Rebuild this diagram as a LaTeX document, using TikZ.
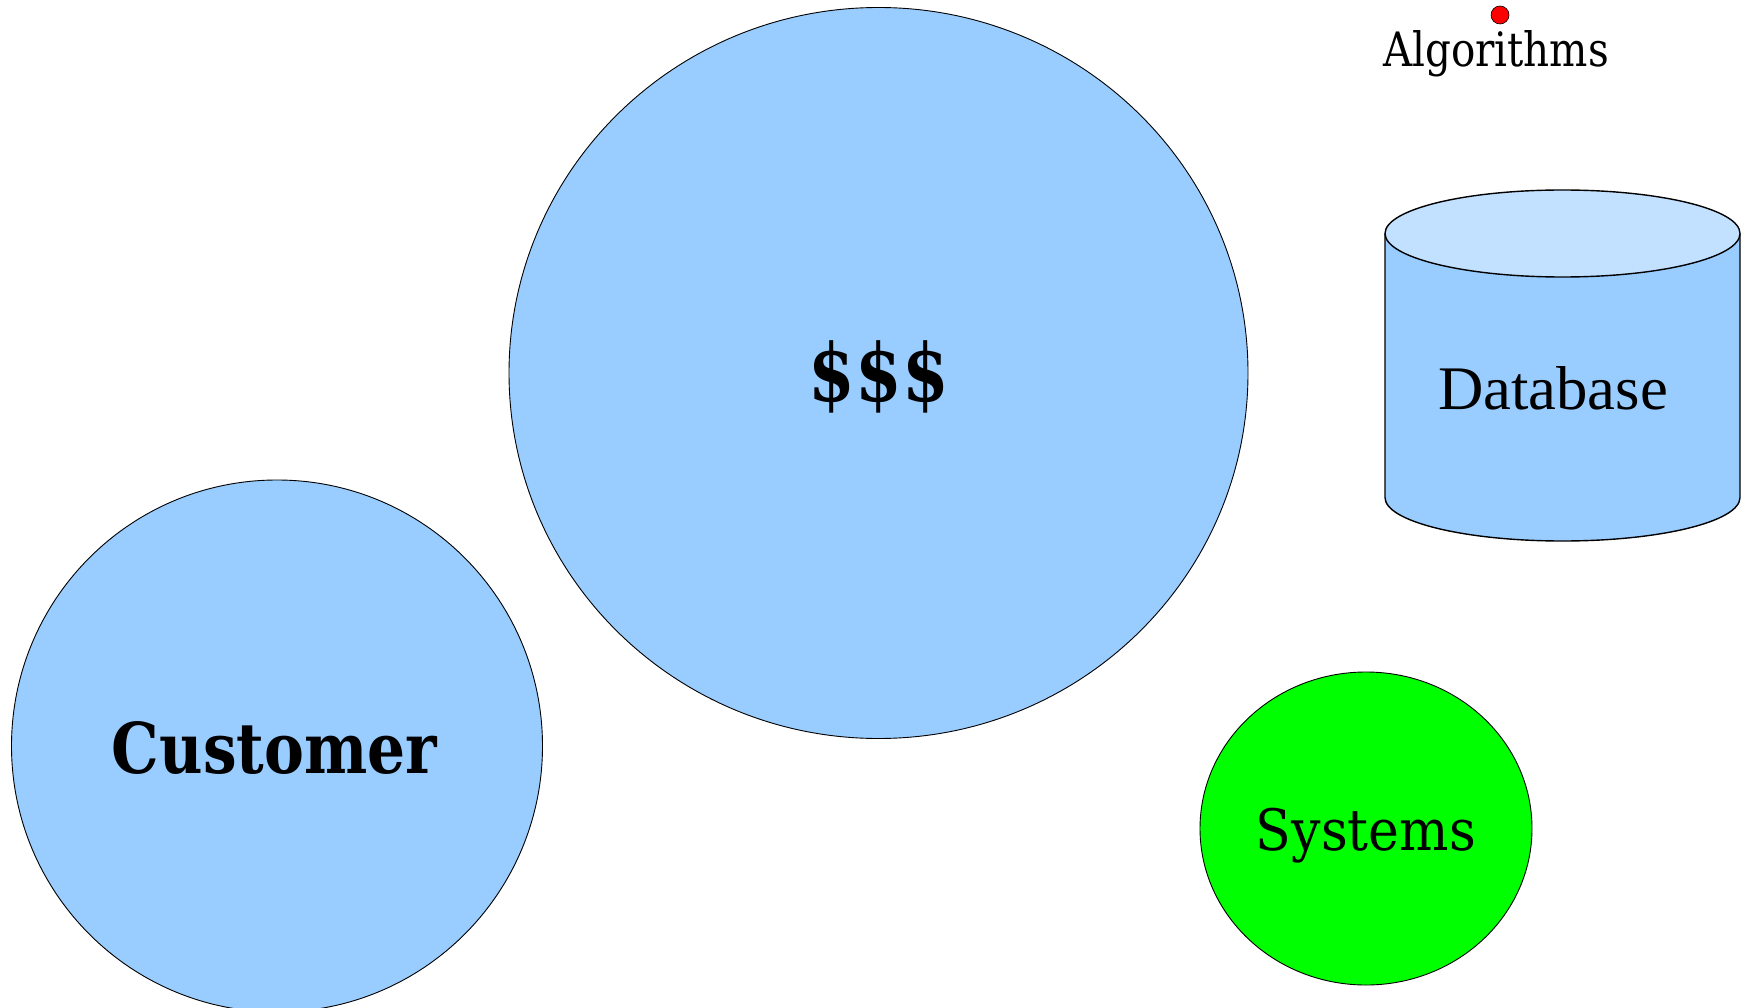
\documentclass[tikz,border=0pt]{standalone}
\usepackage{fontspec}
\setmainfont{DejaVu Serif}
\newfontfamily\dbfont{Liberation Serif}
\usetikzlibrary{shapes.geometric}
\definecolor{blobblue}{HTML}{99CCFF}
\definecolor{toplight}{HTML}{C2E0FF}
\definecolor{sysgreen}{HTML}{00FF00}
\tikzset{
  blob/.style={ellipse, draw=black, line width=0.9pt, inner sep=0pt, fill=blobblue},
  lbl/.style={inner sep=0pt, text=black, anchor=base}
}
\begin{document}
\begin{tikzpicture}[x=1pt,y=-1pt]
\useasboundingbox (0,0) rectangle (1747,1008);
% big circle
\node[blob, minimum width=739pt, minimum height=731pt] (money) at (878.5,373) {};
\node[lbl, anchor=center] (moneyt) at (879,376.5) {\resizebox*{140pt}{72.5pt}{\bfseries \$\$\$}};
% customer
\node[blob, minimum width=531pt, minimum height=532pt] (cust) at (277,746) {};
\node[lbl] (custt) at (274.5,773.5) {\resizebox{325pt}{52pt}{\bfseries Customer}};
% systems
\node[blob, fill=sysgreen, minimum width=332pt, minimum height=313pt] (sys) at (1366,828.5) {};
\node[lbl] (syst) at (1366,850.7) {\resizebox{220pt}{42.4pt}{Systems}};
% database cylinder
\fill[blobblue] (1385,233.5) -- (1385,497.5) arc[start angle=180,end angle=0,x radius=177.5,y radius=43.5] -- (1740,233.5) -- cycle;
\draw[line width=1.4pt] (1385,233.5) -- (1385,497.5) arc[start angle=180,end angle=0,x radius=177.5,y radius=43.5] -- (1740,233.5);
\node[ellipse, draw=black, line width=1.4pt, fill=toplight, inner sep=0pt, minimum width=355pt, minimum height=87pt] (dbtop) at (1562.5,233.5) {};
\node[lbl] (dbt) at (1553,409.3) {\resizebox{230pt}{43pt}{\dbfont Database}};
% algorithms
\node[circle, draw=black, line width=0.6pt, fill=red, inner sep=0pt, minimum size=18pt] (dot) at (1500,15) {};
\node[lbl] (alg) at (1496,67) {\resizebox{226pt}{36pt}{Algorithms}};
\end{tikzpicture}
\end{document}
